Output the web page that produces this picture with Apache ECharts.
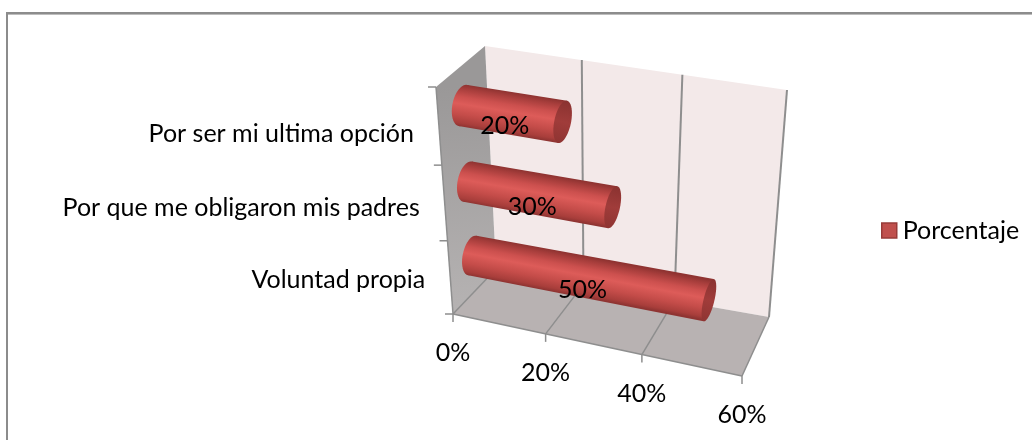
<!DOCTYPE html>
<html><head><meta charset="utf-8">
<style>html,body{margin:0;padding:0;background:#fff}#c{width:1032px;height:440px}</style>
<script src="https://cdn.jsdelivr.net/npm/echarts@6/dist/echarts.min.js"></script>
</head><body><div id="c"></div>
<script>
const categories = ['Voluntad propia', 'Por que me obligaron mis padres', 'Por ser mi ultima opción'];
const values = [50, 30, 20];
const valueTicks = [0, 20, 40, 60];
const seriesName = 'Porcentaje';

const FONT = '25px Lato, "Open Sans", sans-serif';
const C = { a:[453,314], b:[742,376], c:[496,269], d:[769,317], e:[436,87], f:[485,46], g:[787,90], h:[769,143] };
const QU = 1.06, QV = 1.05;
const persp = (t, q) => t / (t + (1 - t) * q);
const mix = (p, q, t) => [p[0] + (q[0] - p[0]) * t, p[1] + (q[1] - p[1]) * t];
function P(u, v, w) {
  const uu = persp(u, QU), vv = persp(v, QV);
  const fb = mix(C.a, C.b, uu), bb = mix(C.c, C.d, uu), ft = mix(C.e, C.h, uu), bt = mix(C.f, C.g, uu);
  return mix(mix(fb, ft, vv), mix(bb, bt, vv), w);
}
function norm(params, api, value, cat) {
  const s = params.coordSys, p = api.coord([value, cat]);
  return [(p[0] - s.x) / s.width, 1 - (p[1] - s.y) / s.height];
}
const line = (p, q, color, width) => ({ type: 'line', silent: true,
  shape: { x1: p[0], y1: p[1], x2: q[0], y2: q[1] }, style: { stroke: color, lineWidth: width } });
const poly = (points, fill) => ({ type: 'polygon', silent: true, shape: { points }, style: { fill } });
const grad = (p, q, stops) => ({ type: 'linear', global: true, x: p[0], y: p[1], x2: q[0], y2: q[1],
  colorStops: stops.map(s => ({ offset: s[0], color: s[1] })) });

function renderWalls(params, api) {
  const kids = [];
  kids.push(poly([C.f, C.g, C.d, C.c], '#f3e9e9'));
  kids.push(poly([C.e, C.f, C.c, C.a], grad(C.e, C.a, [[0, '#9a9898'], [1, '#b6b3b3']])));
  kids.push(poly([C.a, C.b, C.d, C.c], '#b8b2b2'));
  const axis = '#8e8e8e';
  valueTicks.forEach(t => {
    const u = norm(params, api, t, 0)[0];
    const fb = P(u, 0, 0), bb = P(u, 0, 1), bt = P(u, 1, 1);
    kids.push(line(fb, bb, axis, 1.5));
    if (t > 0) kids.push(line(bb, bt, axis, 2));
    kids.push(line(fb, [fb[0], fb[1] + 8], axis, 1.5));
  });
  kids.push(line(C.a, C.b, axis, 1.5));
  kids.push(line(C.a, C.e, axis, 1.5));
  const band = api.size([0, 1])[1] / params.coordSys.height;
  const ticks = categories.map((_, i) => norm(params, api, 0, i)[1] - band / 2);
  ticks.push(1);
  ticks.forEach(v => {
    const p = P(0, v, 0);
    kids.push(line(p, [p[0] - 8, p[1]], axis, 1.5));
  });
  return { type: 'group', children: kids };
}

function capPoints(u, v) {
  const pts = [];
  for (let i = 0; i < 48; i++) {
    const a = i / 48 * Math.PI * 2, c = Math.cos(a);
    pts.push(P(u + 0.005 * c, v + 0.082 * Math.sin(a), 0.5 + 0.2 * c));
  }
  return pts;
}
function renderBar(params, api) {
  const val = api.value(0), cat = api.value(1);
  const n = norm(params, api, val, cat), v = n[1];
  const L = capPoints(0, v), R = capPoints(n[0], v);
  const cl = P(0, v, 0.5), cr = P(n[0], v, 0.5);
  const dx = cr[0] - cl[0], dy = cr[1] - cl[1], len = Math.hypot(dx, dy);
  const nx = -dy / len, ny = dx / len;
  const perp = (p, c) => (p[0] - c[0]) * nx + (p[1] - c[1]) * ny;
  const ext = (pts, c) => {
    let lo = pts[0], hi = pts[0];
    pts.forEach(p => { if (perp(p, c) < perp(lo, c)) lo = p; if (perp(p, c) > perp(hi, c)) hi = p; });
    return [lo, hi];
  };
  const [lt, lb] = ext(L, cl), [rt, rb] = ext(R, cr);
  const g = grad(lt, [lt[0] + nx * (perp(lb, lt) ), lt[1] + ny * (perp(lb, lt))],
    [[0, '#8f3331'], [0.1, '#a63d3b'], [0.3, '#cc504e'], [0.47, '#dd5c59'], [0.72, '#c44c49'], [0.92, '#a83e3b'], [1, '#8f3432']]);
  const gc = grad(rt, rb, [[0, '#8a3230'], [0.5, '#a03c3a'], [1, '#8f3432']]);
  return { type: 'group', children: [
    poly(L, g),
    poly([lt, rt, rb, lb], g),
    poly(R, gc)
  ] };
}
function renderDataLabel(params, api) {
  const val = api.value(0), cat = api.value(1);
  const n = norm(params, api, val, cat);
  const a = P(0, n[1], 0.5), b = P(n[0], n[1], 0.5), m = mix(a, b, 0.5);
  return { type: 'text', silent: true, style: { x: m[0] - 8, y: m[1] + 12, text: api.value(0) + '%',
    font: FONT, fill: '#000', textAlign: 'center', textVerticalAlign: 'middle' } };
}
function renderValueLabel(params, api) {
  const t = api.value(0);
  const p = P(norm(params, api, t, 0)[0], 0, 0);
  return { type: 'text', silent: true, style: { x: p[0], y: p[1] + 39, text: t + '%',
    font: FONT, fill: '#000', textAlign: 'center', textVerticalAlign: 'middle' } };
}
function renderCatLabel(params, api) {
  const i = api.value(0);
  const v = norm(params, api, 0, i)[1];
  const p = P(0, v, 0);
  return { type: 'text', silent: true, style: { x: p[0] - 25, y: p[1] + 5 + (v - 0.5) * 7, text: categories[i],
    font: FONT, fill: '#000', textAlign: 'right', textVerticalAlign: 'middle' } };
}

const barData = values.map((v, i) => [v, i]);
const chart = echarts.init(document.getElementById('c'), null, { renderer: 'canvas' });
chart.setOption({
  animation: false,
  backgroundColor: '#fff',
  grid: { left: 450, top: 50, width: 300, height: 260 },
  xAxis: { type: 'value', min: 0, max: 60, interval: 20, show: false },
  yAxis: { type: 'category', data: categories, show: false },
  legend: { data: [seriesName], left: 881, top: 218, orient: 'vertical', itemWidth: 15, itemHeight: 15, itemGap: 0,
    padding: 0, textStyle: { fontFamily: 'Lato, "Open Sans", sans-serif', fontSize: 25, color: '#000', padding: [0, 0, 0, 1] },
    selectedMode: false, icon: 'rect',
    itemStyle: { color: '#c0504d', borderColor: '#983b39', borderWidth: 1.5 } },
  graphic: [
    { type: 'rect', silent: true, shape: { x: 6, y: 12, width: 1026, height: 2 }, style: { fill: '#8c8c8c' } },
    { type: 'rect', silent: true, shape: { x: 6, y: 14, width: 1026, height: 1 }, style: { fill: '#bdbdbd' } },
    { type: 'rect', silent: true, shape: { x: 6, y: 12, width: 2, height: 428 }, style: { fill: '#8c8c8c' } }
  ],
  series: [
    { type: 'custom', name: 'walls', coordinateSystem: 'cartesian2d', data: [[0, 0]], renderItem: renderWalls, z: 1, silent: true, clip: false },
    { type: 'custom', name: seriesName, coordinateSystem: 'cartesian2d', data: barData, renderItem: renderBar, z: 2, silent: true, clip: false,
      encode: { x: 0, y: 1 }, itemStyle: { color: '#c0504d' } },
    { type: 'custom', name: 'dataLabels', coordinateSystem: 'cartesian2d', data: barData, renderItem: renderDataLabel, z: 3, silent: true, clip: false },
    { type: 'custom', name: 'valueLabels', coordinateSystem: 'cartesian2d', data: valueTicks.map(t => [t, 0]), renderItem: renderValueLabel, z: 3, silent: true, clip: false },
    { type: 'custom', name: 'catLabels', coordinateSystem: 'cartesian2d', data: categories.map((_, i) => [i, i]), renderItem: renderCatLabel, z: 3, silent: true, clip: false,
      encode: { x: 0, y: 1 } }
  ]
});
</script></body></html>
